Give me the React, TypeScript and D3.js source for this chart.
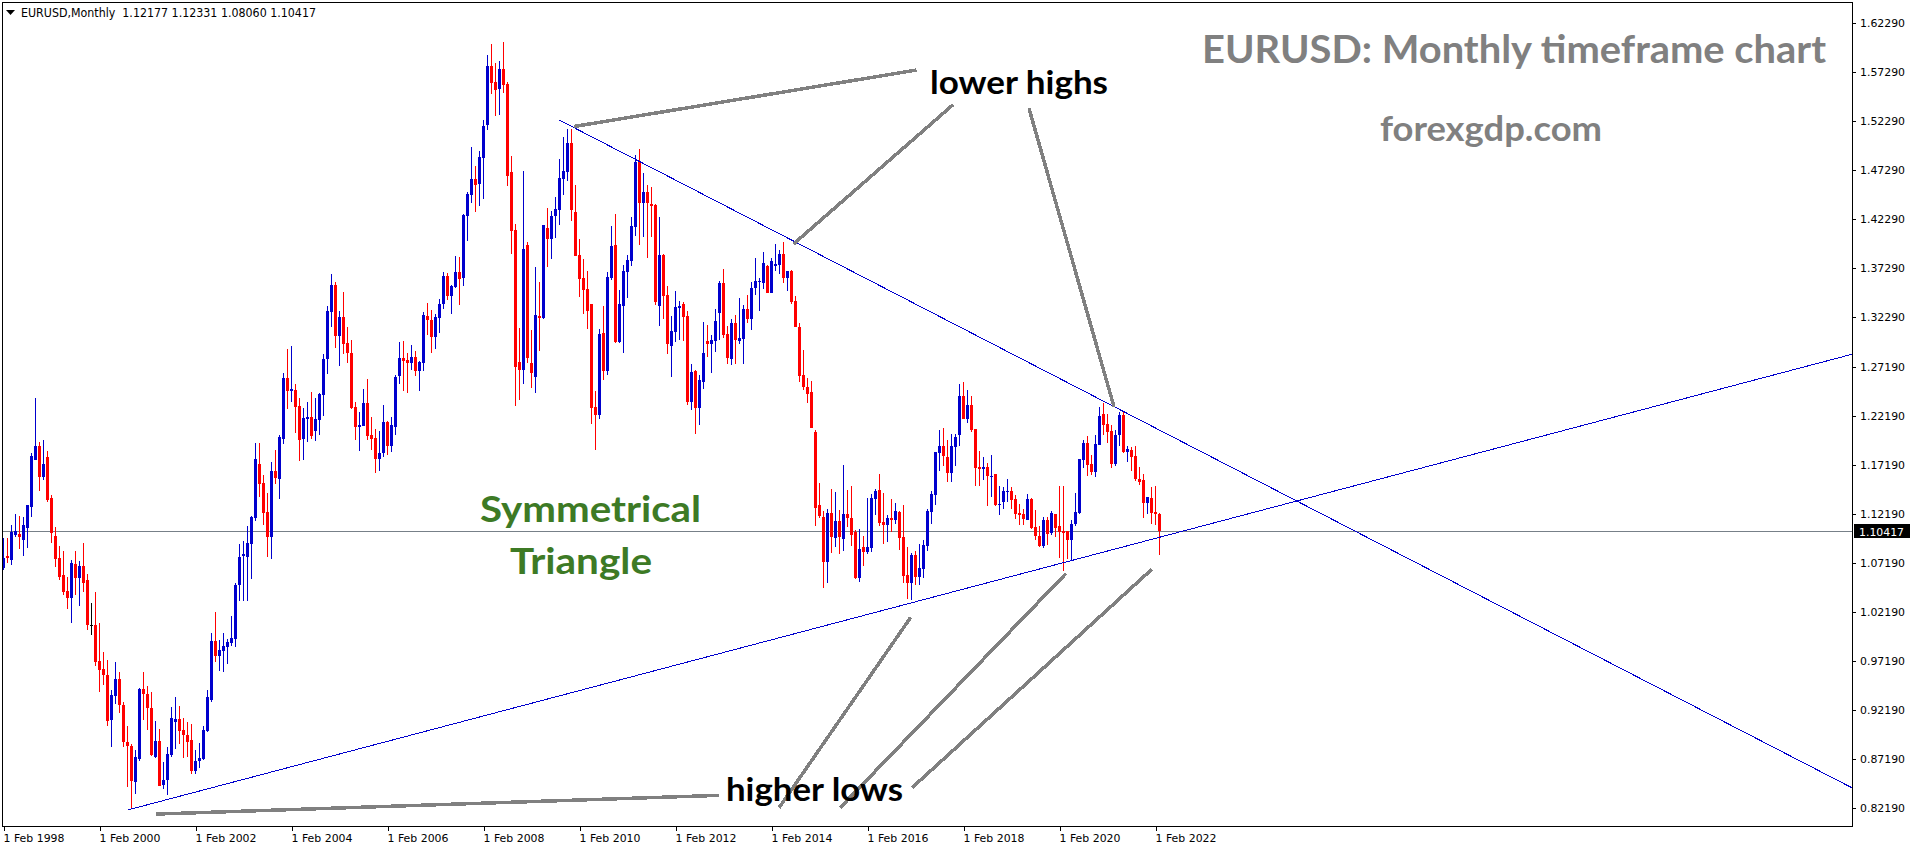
import React, { useEffect, useRef } from 'react';
import * as d3 from 'd3';

// Monthly bars, first one is Feb 1998, last one Mar 2022
const opens = [
    1.0664, 1.0790, 1.0749, 1.1004, 1.1015, 1.0953, 1.1076, 1.1290, 1.1770, 1.1913,
    1.1596, 1.1800, 1.1382, 1.0994, 1.0770, 1.0596, 1.0433, 1.0362, 1.0708, 1.0566,
    1.0688, 1.0545, 1.0090, 1.0086, 0.9719, 0.9637, 0.9576, 0.9117, 0.9362, 0.9535,
    0.9270, 0.8892, 0.8851, 0.8484, 0.8719, 0.9433, 0.9382, 0.9239, 0.8739, 0.8902,
    0.8453, 0.8504, 0.8759, 0.9096, 0.9127, 0.9015, 0.8964, 0.8913, 0.8596, 0.8698,
    0.8719, 0.9004, 0.9321, 0.9923, 0.9770, 0.9821, 0.9862, 0.9902, 0.9943, 1.0494,
    1.0790, 1.0780, 1.0913, 1.1178, 1.1729, 1.1535, 1.1239, 1.0984, 1.1657, 1.1576,
    1.1985, 1.2607, 1.2475, 1.2485, 1.2322, 1.1985, 1.2189, 1.2209, 1.2067, 1.2179,
    1.2434, 1.2801, 1.3281, 1.3557, 1.3036, 1.3230, 1.2964, 1.2862, 1.2312, 1.2108,
    1.2118, 1.2352, 1.2026, 1.1995, 1.1781, 1.1842, 1.2159, 1.1914, 1.2108, 1.2628,
    1.2811, 1.2791, 1.2760, 1.2822, 1.2679, 1.2760, 1.3240, 1.3199, 1.3026, 1.3219,
    1.3362, 1.3648, 1.3444, 1.3536, 1.3689, 1.3628, 1.4260, 1.4474, 1.4638, 1.4587,
    1.4852, 1.5189, 1.5791, 1.5627, 1.5556, 1.5760, 1.5607, 1.4709, 1.4117, 1.2771,
    1.2689, 1.3964, 1.2760, 1.2617, 1.3240, 1.3219, 1.4137, 1.4025, 1.4260, 1.4321,
    1.4638, 1.4709, 1.5005, 1.4301, 1.3861, 1.3626, 1.3514, 1.3361, 1.2310, 1.2229,
    1.3065, 1.2677, 1.3626, 1.3963, 1.2973, 1.3341, 1.3688, 1.3800, 1.4147, 1.4820,
    1.4392, 1.4504, 1.4382, 1.4371, 1.3341, 1.3861, 1.3453, 1.2933, 1.3075, 1.3320,
    1.3361, 1.3239, 1.2361, 1.2677, 1.2300, 1.2565, 1.2984, 1.2953, 1.2984, 1.3269,
    1.3575, 1.3055, 1.2800, 1.3167, 1.2984, 1.3004, 1.3310, 1.3208, 1.3524, 1.3586,
    1.3575, 1.3749, 1.3473, 1.3749, 1.3759, 1.3871, 1.3626, 1.3698, 1.3392, 1.3126,
    1.2637, 1.2514, 1.2463, 1.2055, 1.1310, 1.1188, 1.0729, 1.1229, 1.0974, 1.1147,
    1.0963, 1.1219, 1.1178, 1.1035, 1.0565, 1.0882, 1.0831, 1.0872, 1.1372, 1.1463,
    1.1137, 1.1106, 1.1178, 1.1157, 1.1239, 1.0984, 1.0596, 1.0514, 1.0800, 1.0576,
    1.0657, 1.0892, 1.1239, 1.1412, 1.1841, 1.1912, 1.1800, 1.1637, 1.1902, 1.2025,
    1.2423, 1.2188, 1.2331, 1.2086, 1.1698, 1.1678, 1.1698, 1.1596, 1.1627, 1.1310,
    1.1341, 1.1443, 1.1453, 1.1372, 1.1229, 1.1219, 1.1157, 1.1372, 1.1086, 1.0994,
    1.0892, 1.1157, 1.1025, 1.1219, 1.1096, 1.1045, 1.1045, 1.0953, 1.1117, 1.1229,
    1.1770, 1.1943, 1.1729, 1.1647, 1.1923, 1.2239, 1.2137, 1.2066, 1.1729, 1.2025,
    1.2229, 1.1851, 1.1872, 1.1810, 1.1576, 1.1566, 1.1331, 1.1382, 1.1239, 1.12177,
];

const highs = [
    1.0974, 1.0974, 1.1106, 1.1219, 1.1198, 1.1188, 1.1311, 1.1841, 1.2402, 1.1953,
    1.1974, 1.1862, 1.1413, 1.1086, 1.0892, 1.0841, 1.0576, 1.0749, 1.0841, 1.0739,
    1.0923, 1.0606, 1.0311, 1.0423, 1.0106, 0.9810, 0.9729, 0.9423, 0.9708, 0.9606,
    0.9300, 0.9055, 0.8872, 0.8811, 0.9443, 0.9606, 0.9464, 0.9402, 0.9106, 0.9025,
    0.8688, 0.8841, 0.9249, 0.9351, 0.9260, 0.9137, 0.9096, 0.9076, 0.8811, 0.8882,
    0.9055, 0.9423, 1.0004, 1.0219, 0.9933, 1.0004, 0.9943, 1.0178, 1.0515, 1.0913,
    1.0943, 1.1096, 1.1198, 1.1943, 1.1943, 1.1617, 1.1433, 1.1749, 1.1872, 1.2025,
    1.2658, 1.2903, 1.2934, 1.2546, 1.2403, 1.2301, 1.2362, 1.2464, 1.2403, 1.2454,
    1.2852, 1.3342, 1.3669, 1.3587, 1.3291, 1.3485, 1.3128, 1.2995, 1.2362, 1.2261,
    1.2495, 1.2597, 1.2209, 1.2087, 1.2067, 1.2332, 1.2169, 1.2209, 1.2638, 1.2975,
    1.2985, 1.2862, 1.2944, 1.2883, 1.2781, 1.3281, 1.3373, 1.3301, 1.3260, 1.3413,
    1.3689, 1.3679, 1.3557, 1.3852, 1.3842, 1.4280, 1.4505, 1.4964, 1.4770, 1.4923,
    1.5240, 1.5903, 1.6015, 1.5821, 1.5842, 1.6036, 1.5627, 1.4872, 1.4178, 1.3118,
    1.4719, 1.3995, 1.3097, 1.3740, 1.3587, 1.4168, 1.4342, 1.4311, 1.4454, 1.4842,
    1.5066, 1.5148, 1.5148, 1.4576, 1.4025, 1.3820, 1.3698, 1.3361, 1.2473, 1.3106,
    1.3341, 1.3688, 1.4157, 1.4280, 1.3504, 1.3759, 1.3861, 1.4249, 1.4882, 1.4943,
    1.4698, 1.4575, 1.4555, 1.4382, 1.4249, 1.3871, 1.3545, 1.3239, 1.3494, 1.3392,
    1.3382, 1.3290, 1.2749, 1.2688, 1.2637, 1.3177, 1.3147, 1.3045, 1.3310, 1.3596,
    1.3718, 1.3137, 1.3208, 1.3249, 1.3422, 1.3351, 1.3453, 1.3586, 1.3831, 1.3626,
    1.3892, 1.3759, 1.3831, 1.3973, 1.3912, 1.3994, 1.3698, 1.3708, 1.3443, 1.3167,
    1.2892, 1.2606, 1.2575, 1.2076, 1.1535, 1.1249, 1.1270, 1.1474, 1.1443, 1.1259,
    1.1719, 1.1463, 1.1504, 1.1055, 1.1065, 1.0994, 1.1382, 1.1423, 1.1474, 1.1627,
    1.1433, 1.1208, 1.1372, 1.1331, 1.1249, 1.1310, 1.0882, 1.0821, 1.0841, 1.0912,
    1.0953, 1.1270, 1.1453, 1.1851, 1.2076, 1.2096, 1.1974, 1.2035, 1.2035, 1.2545,
    1.2566, 1.2484, 1.2423, 1.2086, 1.1861, 1.1800, 1.1739, 1.1821, 1.1627, 1.1504,
    1.1491, 1.1576, 1.1494, 1.1412, 1.1327, 1.1270, 1.1423, 1.1382, 1.1259, 1.1096,
    1.1188, 1.1188, 1.1249, 1.1219, 1.1504, 1.1504, 1.1045, 1.1157, 1.1433, 1.1780,
    1.1974, 1.2015, 1.1821, 1.2025, 1.2310, 1.2351, 1.2239, 1.2127, 1.2076, 1.2259,
    1.2270, 1.1912, 1.1902, 1.1912, 1.1698, 1.1627, 1.1392, 1.1494, 1.1504, 1.12331,
];

const lows = [
    1.0647, 1.0722, 1.0702, 1.0984, 1.0862, 1.0790, 1.0872, 1.1188, 1.1770, 1.1453,
    1.1566, 1.1341, 1.0923, 1.0678, 1.0545, 1.0392, 1.0249, 1.0106, 1.0392, 1.0280,
    1.0423, 1.0035, 0.9984, 0.9668, 0.9402, 0.9474, 0.9055, 0.8841, 0.9280, 0.9188,
    0.8841, 0.8433, 0.8225, 0.8361, 0.8698, 0.9117, 0.9015, 0.8749, 0.8729, 0.8443,
    0.8412, 0.8351, 0.8739, 0.8821, 0.8872, 0.8729, 0.8739, 0.8566, 0.8566, 0.8627,
    0.8708, 0.8994, 0.9300, 0.9708, 0.9617, 0.9606, 0.9688, 0.9872, 0.9862, 1.0331,
    1.0331, 1.0331, 1.0555, 1.1147, 1.1392, 1.1106, 1.0780, 1.0759, 1.1525, 1.1372,
    1.1934, 1.2291, 1.2362, 1.2046, 1.1761, 1.1771, 1.1955, 1.1985, 1.1965, 1.2026,
    1.2220, 1.2648, 1.3128, 1.2913, 1.2730, 1.2852, 1.2760, 1.2291, 1.1975, 1.1863,
    1.2118, 1.1975, 1.1873, 1.1638, 1.1659, 1.1801, 1.1822, 1.1852, 1.2026, 1.2546,
    1.2475, 1.2454, 1.2689, 1.2628, 1.2475, 1.2679, 1.3046, 1.2862, 1.2903, 1.3066,
    1.3311, 1.3403, 1.3260, 1.3526, 1.3352, 1.3546, 1.4005, 1.4393, 1.4301, 1.4362,
    1.4433, 1.5138, 1.5505, 1.5280, 1.5291, 1.5515, 1.4566, 1.3872, 1.2322, 1.2383,
    1.2546, 1.2760, 1.2505, 1.2454, 1.2883, 1.3209, 1.3740, 1.3821, 1.4035, 1.4168,
    1.4474, 1.4617, 1.4209, 1.3852, 1.3433, 1.3259, 1.3106, 1.2137, 1.1871, 1.2188,
    1.2586, 1.2637, 1.3606, 1.2963, 1.2963, 1.2861, 1.3422, 1.3749, 1.4055, 1.3963,
    1.4045, 1.3831, 1.4045, 1.3351, 1.3137, 1.3208, 1.2851, 1.2616, 1.2973, 1.2994,
    1.2984, 1.2331, 1.2280, 1.2035, 1.2126, 1.2494, 1.2820, 1.2657, 1.2871, 1.2994,
    1.3014, 1.2749, 1.2739, 1.2749, 1.2953, 1.2749, 1.3167, 1.3096, 1.3453, 1.3290,
    1.3514, 1.3473, 1.3473, 1.3698, 1.3667, 1.3575, 1.3494, 1.3361, 1.3126, 1.2565,
    1.2484, 1.2351, 1.2096, 1.1096, 1.1178, 1.0463, 1.0514, 1.0821, 1.0882, 1.0810,
    1.0841, 1.1086, 1.0892, 1.0555, 1.0525, 1.0688, 1.0810, 1.0831, 1.1208, 1.1096,
    1.0912, 1.0933, 1.1035, 1.1117, 1.0851, 1.0514, 1.0351, 1.0341, 1.0494, 1.0494,
    1.0565, 1.0841, 1.1117, 1.1310, 1.1657, 1.1708, 1.1545, 1.1545, 1.1708, 1.1912,
    1.2188, 1.2147, 1.2055, 1.1504, 1.1504, 1.1566, 1.1300, 1.1392, 1.1300, 1.1208,
    1.1270, 1.1341, 1.1270, 1.1168, 1.1106, 1.1106, 1.1157, 1.1066, 1.0953, 1.0882,
    1.0872, 1.0902, 1.1004, 1.0988, 1.0770, 1.0637, 1.0759, 1.0749, 1.1096, 1.1219,
    1.1688, 1.1606, 1.1617, 1.1596, 1.1923, 1.2025, 1.1943, 1.1688, 1.1708, 1.1912,
    1.1841, 1.1749, 1.1657, 1.1555, 1.1515, 1.1178, 1.1219, 1.1117, 1.1106, 1.08060,
];

const closes = [
    1.0770, 1.0770, 1.1035, 1.1042, 1.0984, 1.1106, 1.1311, 1.1811, 1.1913, 1.1596,
    1.1729, 1.1362, 1.1025, 1.0759, 1.0576, 1.0423, 1.0362, 1.0719, 1.0566, 1.0688,
    1.0515, 1.0086, 1.0090, 0.9708, 0.9627, 0.9576, 0.9106, 0.9372, 0.9535, 0.9270,
    0.8892, 0.8851, 0.8494, 0.8739, 0.9433, 0.9382, 0.9239, 0.8759, 0.8902, 0.8443,
    0.8504, 0.8770, 0.9137, 0.9127, 0.9004, 0.8964, 0.8892, 0.8596, 0.8698, 0.8729,
    0.9015, 0.9351, 0.9923, 0.9770, 0.9831, 0.9872, 0.9913, 0.9953, 1.0494, 1.0780,
    1.0811, 1.0923, 1.1188, 1.1780, 1.1525, 1.1229, 1.0984, 1.1657, 1.1586, 1.2004,
    1.2607, 1.2475, 1.2495, 1.2312, 1.1975, 1.2199, 1.2209, 1.2015, 1.2189, 1.2444,
    1.2801, 1.3291, 1.3557, 1.3036, 1.3230, 1.2954, 1.2862, 1.2301, 1.2108, 1.2128,
    1.2352, 1.2015, 1.1985, 1.1781, 1.1842, 1.2159, 1.1914, 1.2128, 1.2618, 1.2811,
    1.2781, 1.2760, 1.2822, 1.2679, 1.2771, 1.3250, 1.3199, 1.3026, 1.3230, 1.3362,
    1.3648, 1.3444, 1.3546, 1.3689, 1.3617, 1.4270, 1.4484, 1.4638, 1.4576, 1.4862,
    1.5178, 1.5791, 1.5617, 1.5546, 1.5760, 1.5597, 1.4668, 1.4107, 1.2719, 1.2689,
    1.3923, 1.2811, 1.2658, 1.3250, 1.3219, 1.4168, 1.4025, 1.4260, 1.4331, 1.4648,
    1.4719, 1.5005, 1.4321, 1.3852, 1.3616, 1.3504, 1.3290, 1.2300, 1.2229, 1.3055,
    1.2677, 1.3637, 1.3953, 1.2973, 1.3361, 1.3698, 1.3810, 1.4157, 1.4810, 1.4392,
    1.4504, 1.4392, 1.4361, 1.3382, 1.3861, 1.3443, 1.2953, 1.3086, 1.3331, 1.3341,
    1.3229, 1.2361, 1.2667, 1.2300, 1.2586, 1.2861, 1.2953, 1.2994, 1.3188, 1.3575,
    1.3045, 1.2810, 1.3167, 1.2994, 1.3014, 1.3310, 1.3208, 1.3524, 1.3596, 1.3596,
    1.3780, 1.3473, 1.3800, 1.3769, 1.3871, 1.3626, 1.3698, 1.3382, 1.3126, 1.2626,
    1.2514, 1.2443, 1.2096, 1.1280, 1.1198, 1.0729, 1.1229, 1.0984, 1.1147, 1.0984,
    1.1219, 1.1178, 1.1004, 1.0565, 1.0861, 1.0831, 1.0882, 1.1382, 1.1453, 1.1127,
    1.1106, 1.1178, 1.1157, 1.1249, 1.0974, 1.0586, 1.0514, 1.0800, 1.0576, 1.0668,
    1.0902, 1.1249, 1.1423, 1.1851, 1.1912, 1.1810, 1.1637, 1.1912, 1.2004, 1.2423,
    1.2188, 1.2331, 1.2076, 1.1688, 1.1678, 1.1698, 1.1606, 1.1606, 1.1310, 1.1321,
    1.1453, 1.1453, 1.1361, 1.1219, 1.1208, 1.1168, 1.1372, 1.1076, 1.0994, 1.0892,
    1.1157, 1.1015, 1.1229, 1.1076, 1.1035, 1.1025, 1.0953, 1.1117, 1.1239, 1.1780,
    1.1943, 1.1719, 1.1647, 1.1933, 1.2219, 1.2127, 1.2055, 1.1729, 1.2025, 1.2229,
    1.1851, 1.1882, 1.1800, 1.1576, 1.1545, 1.1331, 1.1392, 1.1229, 1.1219, 1.10417,
];

const priceTicks = [1.6229, 1.5729, 1.5229, 1.4729, 1.4229, 1.3729, 1.3229, 1.2719, 1.2219, 1.1719,
    1.1219, 1.0719, 1.0219, 0.9719, 0.9219, 0.8719, 0.8219];
const yearTicks = ['1 Feb 1998', '1 Feb 2000', '1 Feb 2002', '1 Feb 2004', '1 Feb 2006', '1 Feb 2008', '1 Feb 2010',
    '1 Feb 2012', '1 Feb 2014', '1 Feb 2016', '1 Feb 2018', '1 Feb 2020', '1 Feb 2022'];
const lastPrice = 1.10417;
const legendText = 'EURUSD,Monthly  1.12177 1.12331 1.08060 1.10417';

// Trendlines and pointers, as [bar, price, bar, price]
const trendLines = [
    [139.1, 1.5239, 462.25, 0.8426],
    [31.1, 0.8199, 462.25, 1.2850],
];
const pointers = [
    [142.75, 1.5174, 228.4, 1.5750],
    [197.6, 1.3974, 237.5, 1.5396],
    [256.5, 1.5359, 277.75, 1.2314],
    [38.25, 0.8158, 179, 0.8349],
    [194, 0.8222, 226.9, 1.0164],
    [209.25, 0.8222, 265.75, 1.0613],
    [227.25, 0.8426, 287.25, 1.0658],
];

const WIDTH = 1916;
const HEIGHT = 850;
const FRAME = { left: 2, top: 2, right: 1852, bottom: 826 };
const BLUE = '#0000cd';
const RED = '#ff0000';
const GRAY = '#808080';
const GREEN = '#3d7a25';
const MONO = '"DejaVu Sans", sans-serif';
const HEAD = 'Lato, "Open Sans", sans-serif';

export default function App() {
    const svgRef = useRef<SVGSVGElement>(null);

    useEffect(() => {
        if (!svgRef.current) return;

        const svg = d3.select(svgRef.current);
        svg.selectAll('*').remove();

        const x = d3.scaleLinear().domain([0, 288]).range([3, 1155]);
        const y = d3.scaleLinear().domain([1.6229, 0.8219]).range([23.1, 808.1]);

        svg.append('rect').attr('width', WIDTH).attr('height', HEIGHT).attr('fill', '#ffffff');

        svg.append('defs').append('clipPath').attr('id', 'plot')
            .append('rect')
            .attr('x', FRAME.left).attr('y', FRAME.top)
            .attr('width', FRAME.right - FRAME.left).attr('height', FRAME.bottom - FRAME.top);

        const plot = svg.append('g').attr('clip-path', 'url(#plot)').attr('shape-rendering', 'crispEdges');

        // Current price line sits behind the bars
        plot.append('rect')
            .attr('x', FRAME.left).attr('width', FRAME.right - FRAME.left)
            .attr('y', Math.floor(y(lastPrice))).attr('height', 1)
            .attr('fill', '#778088');

        // Candles
        const bars = d3.range(opens.length);
        const colour = (i: number) => closes[i] > opens[i] ? BLUE : closes[i] < opens[i] ? RED : '#000000';
        const bar = plot.selectAll('.bar').data(bars).enter().append('g').attr('class', 'bar');

        bar.append('rect')
            .attr('x', i => x(i))
            .attr('width', 1)
            .attr('y', i => Math.round(y(highs[i])))
            .attr('height', i => Math.max(1, Math.round(y(lows[i])) - Math.round(y(highs[i]))))
            .attr('fill', colour);

        bar.append('rect')
            .attr('x', i => x(i) - 1)
            .attr('width', 3)
            .attr('y', i => Math.round(y(Math.max(opens[i], closes[i]))))
            .attr('height', i => Math.max(1, Math.round(y(Math.min(opens[i], closes[i]))) - Math.round(y(Math.max(opens[i], closes[i])))))
            .attr('fill', colour);

        // Triangle lines
        plot.selectAll('.trend').data(trendLines).enter().append('line')
            .attr('class', 'trend')
            .attr('x1', d => x(d[0])).attr('y1', d => y(d[1]))
            .attr('x2', d => x(d[2])).attr('y2', d => y(d[3]))
            .attr('stroke', BLUE).attr('stroke-width', 1);

        // Gray pointers drawn on the picture
        plot.selectAll('.pointer').data(pointers).enter().append('line')
            .attr('class', 'pointer')
            .attr('x1', d => x(d[0])).attr('y1', d => y(d[1]))
            .attr('x2', d => x(d[2])).attr('y2', d => y(d[3]))
            .attr('stroke', GRAY).attr('stroke-width', 3.5);

        // Frame
        svg.append('rect')
            .attr('x', FRAME.left + 0.5).attr('y', FRAME.top + 0.5)
            .attr('width', FRAME.right - FRAME.left).attr('height', FRAME.bottom - FRAME.top)
            .attr('fill', 'none').attr('stroke', '#000000').attr('stroke-width', 1)
            .attr('shape-rendering', 'crispEdges');

        // Price axis
        const yAxis = d3.axisRight(y)
            .tickValues(priceTicks)
            .tickSize(3)
            .tickPadding(4)
            .tickFormat(d => (d as number).toFixed(5));
        const yg = svg.append('g').attr('transform', `translate(${FRAME.right + 1},0)`).call(yAxis);
        yg.select('.domain').remove();
        yg.selectAll('.tick line').attr('stroke', '#000000').attr('shape-rendering', 'crispEdges');
        yg.selectAll('.tick text')
            .attr('fill', '#000000')
            .style('font-family', MONO)
            .style('font-size', '10.9px');

        // Time axis, the labels start at their tick
        const xAxis = d3.axisBottom(x)
            .tickValues(yearTicks.map((_, i) => i * 24))
            .tickSize(4)
            .tickFormat((_, i) => yearTicks[i]);
        const xg = svg.append('g').attr('transform', `translate(0.5,${FRAME.bottom + 1})`).call(xAxis);
        xg.select('.domain').remove();
        xg.selectAll('.tick line').attr('stroke', '#000000').attr('shape-rendering', 'crispEdges');
        xg.selectAll('.tick text')
            .attr('fill', '#000000')
            .attr('text-anchor', 'start')
            .attr('x', -0.5)
            .attr('y', 7)
            .attr('textLength', 61)
            .attr('lengthAdjust', 'spacingAndGlyphs')
            .style('font-family', MONO)
            .style('font-size', '10.9px');

        // Last price box
        const boxY = Math.floor(y(lastPrice));
        svg.append('rect')
            .attr('x', 1854).attr('y', boxY - 7).attr('width', 56).attr('height', 14)
            .attr('fill', '#000000');
        svg.append('text')
            .attr('x', 1859).attr('y', boxY + 4.5)
            .attr('fill', '#ffffff')
            .style('font-family', MONO).style('font-size', '10.9px')
            .text(lastPrice.toFixed(5));

        // Legend at top left
        svg.append('path')
            .attr('d', d3.line()([[6, 10], [15, 10], [10.5, 15]]) + 'Z')
            .attr('fill', '#000000');
        svg.append('text')
            .attr('x', 21).attr('y', 17)
            .attr('fill', '#000000')
            .attr('textLength', 295)
            .attr('lengthAdjust', 'spacingAndGlyphs')
            .attr('xml:space', 'preserve')
            .style('font-family', MONO).style('font-size', '11.5px')
            .style('white-space', 'pre')
            .text(legendText);

        // Captions
        const caption = (label: string, left: number, baseline: number, length: number, size: number, fill: string) => {
            svg.append('text')
                .attr('x', left).attr('y', baseline)
                .attr('fill', fill)
                .attr('textLength', length)
                .attr('lengthAdjust', 'spacingAndGlyphs')
                .style('font-family', HEAD)
                .style('font-weight', '700')
                .style('font-size', `${size}px`)
                .text(label);
        };
        caption('EURUSD: Monthly timeframe chart', 1202, 63, 624, 39, GRAY);
        caption('forexgdp.com', 1380, 141, 222, 34, GRAY);
        caption('Symmetrical', 480, 522, 221, 36, GREEN);
        caption('Triangle', 510, 574, 142, 36, GREEN);
        caption('lower highs', 930, 94, 178, 33, '#000000');
        caption('higher lows', 726, 801, 177, 33, '#000000');
    }, []);

    return (
        <svg
            ref={svgRef}
            width={WIDTH}
            height={HEIGHT}
            viewBox={`0 0 ${WIDTH} ${HEIGHT}`}
            style={{ position: 'absolute', left: 0, top: 0, display: 'block' }}
        />
    );
}
